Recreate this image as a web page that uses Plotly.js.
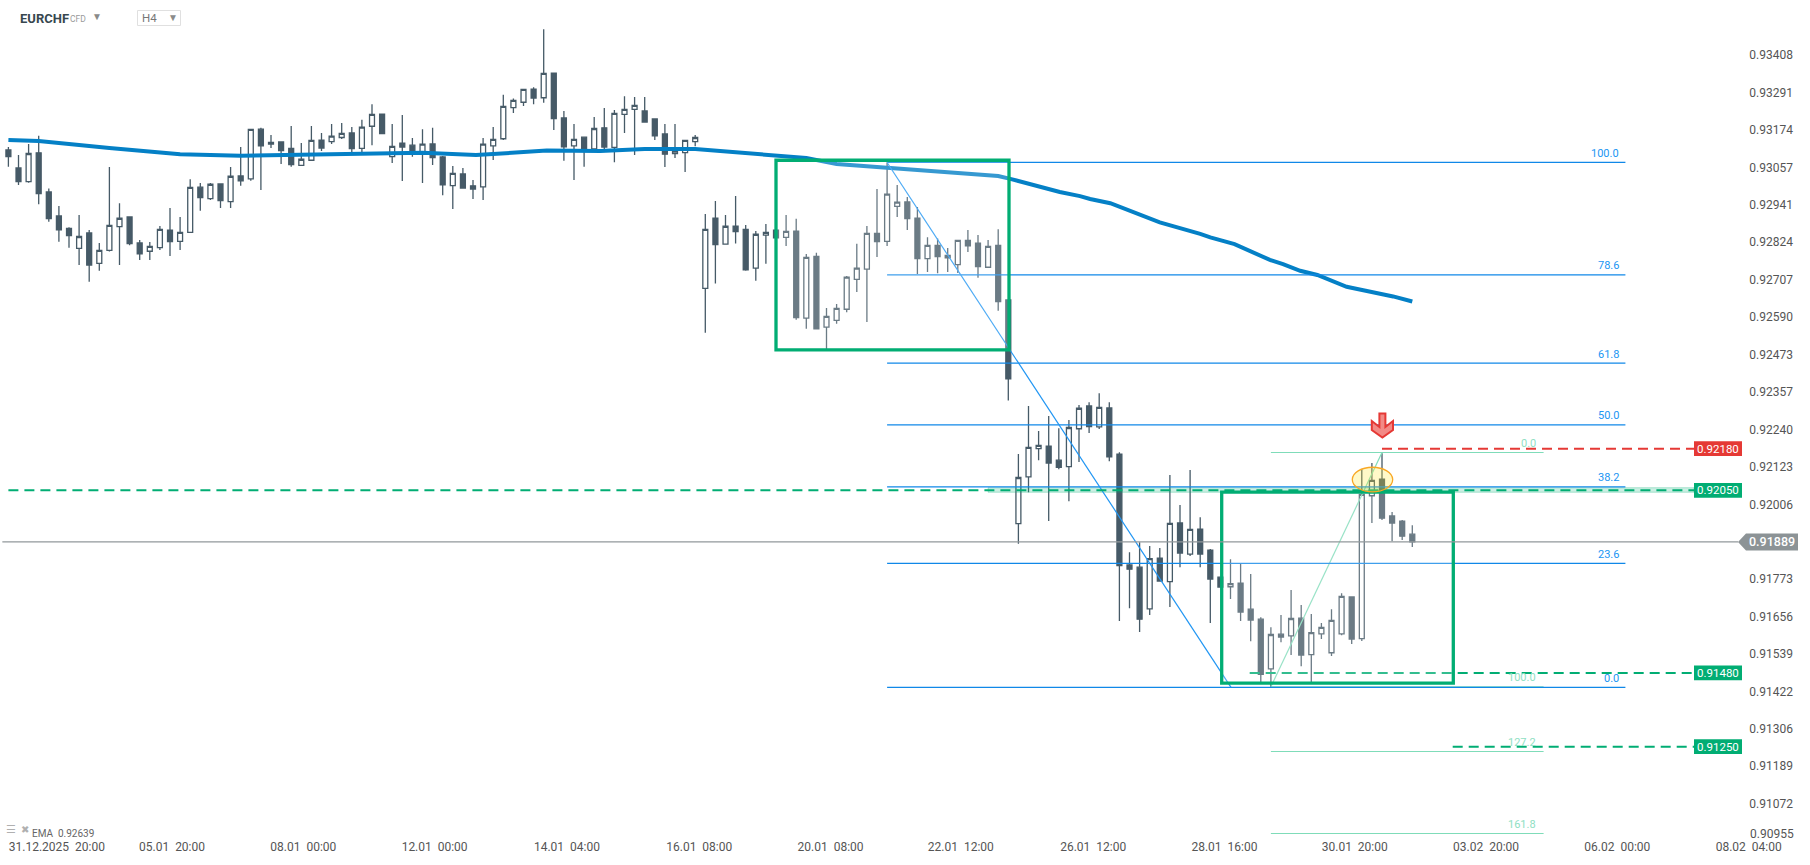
<!DOCTYPE html>
<html>
<head>
<meta charset="utf-8">
<script src="https://cdn.plot.ly/plotly-3.0.1.min.js"></script>
<style>html,body{margin:0;padding:0;background:#fff;overflow:hidden}#chart{width:1810px;height:865px}</style>
</head>
<body>
<div id="chart"></div>
<script>
const opens = [
.93112,.93056,.93013,.93103,.92981,.92906,.92867,.92805,.92853,.92758,
.92799,.92873,.92903,.92822,.92796,.92807,.92862,.92827,.92855,.92996,
.92960,.93006,.92951,.93031,.93022,.93177,.93130,.93137,.93117,.93064,
.93080,.93143,.93138,.93151,.93165,.93117,.93186,.93224,.93091,.93133,
.93127,.93101,.93131,.93090,.93001,.93037,.93000,.92997,.93125,.93147,
.93244,.93261,.93302,.93275,.93352,.93212,.93125,.93152,.93115,.93181,
.93120,.93223,.93239,.93234,.93209,.93162,.93101,.93104,.93138,.92680,
.92899,.92818,.92874,.92864,.92743,.92846,.92862,.92839,.92859,.92587,
.92780,.92559,.92580,.92615,.92708,.92740,.92852,.92827,.92936,.92950,
.92899,.92773,.92814,.92783,.92754,.92830,.92821,.92746,.92814,.92644,
.91946,.92092,.92180,.92188,.92144,.92124,.92242,.92313,.92248,.92307,
.92163,.91817,.91810,.91680,.91838,.91765,.91948,.91851,.91929,.91863,
.91779,.91749,.91760,.91679,.91648,.91493,.91601,.91596,.91651,.91537,
.91602,.91543,.91602,.91717,.91587,.92033,.92085,.91970,.91954,.91913];
const highs = [
.93121,.93096,.93131,.93156,.92992,.92937,.92871,.92909,.92862,.92822,
.93059,.92946,.92903,.92831,.92825,.92875,.92931,.92903,.93021,.93009,
.93009,.93006,.93059,.93121,.93176,.93181,.93159,.93137,.93187,.93134,
.93187,.93165,.93193,.93196,.93184,.93206,.93255,.93224,.93193,.93221,
.93149,.93177,.93181,.93093,.93062,.93056,.93018,.93149,.93184,.93284,
.93273,.93302,.93308,.93489,.93352,.93234,.93193,.93152,.93215,.93243,
.93237,.93280,.93277,.93277,.93209,.93193,.93193,.93142,.93159,.92912,
.92953,.92909,.92968,.92878,.92859,.92881,.92862,.92909,.92897,.92787,
.92791,.92619,.92631,.92719,.92819,.92875,.92990,.93074,.93003,.92965,
.92934,.92840,.92836,.92806,.92830,.92862,.92847,.92831,.92865,.92644,
.92163,.92313,.92235,.92282,.92244,.92269,.92316,.92325,.92353,.92325,
.92169,.91857,.91888,.91876,.91870,.92098,.92004,.92113,.91966,.91867,
.91779,.91835,.91820,.91789,.91654,.91623,.91661,.91739,.91692,.91664,
.91636,.91679,.91729,.91717,.92116,.92135,.92166,.91982,.91957,.91941];
const lows = [
.93060,.93003,.93010,.92943,.92888,.92826,.92807,.92753,.92701,.92735,
.92795,.92753,.92815,.92769,.92769,.92800,.92781,.92800,.92854,.92922,
.92956,.92931,.92931,.93000,.93016,.92987,.93118,.93068,.93060,.93064,
.93078,.93109,.93131,.93146,.93106,.93099,.93127,.93163,.93071,.93015,
.93091,.93009,.93065,.92971,.92928,.92993,.92959,.92956,.93081,.93143,
.93227,.93249,.93255,.93259,.93174,.93078,.93018,.93060,.93112,.93112,
.93074,.93165,.93096,.93199,.93143,.93059,.93087,.93043,.93124,.92542,
.92695,.92816,.92820,.92735,.92704,.92757,.92838,.92812,.92582,.92554,
.92554,.92491,.92570,.92606,.92669,.92575,.92778,.92812,.92903,.92862,
.92725,.92731,.92727,.92731,.92728,.92794,.92713,.92746,.92610,.92330,
.91883,.92044,.92144,.91954,.92116,.92016,.92138,.92229,.92241,.92141,
.91642,.91682,.91608,.91661,.91767,.91686,.91810,.91845,.91810,.91636,
.91748,.91711,.91642,.91579,.91452,.91436,.91576,.91536,.91501,.91452,
.91586,.91533,.91598,.91570,.91580,.91948,.91957,.91891,.91895,.91873];
const closes = [
.93091,.93013,.93101,.92976,.92898,.92863,.92845,.92842,.92753,.92799,
.92877,.92899,.92820,.92788,.92811,.92864,.92826,.92855,.92995,.92963,
.93005,.92954,.93030,.93016,.93176,.93125,.93136,.93110,.93066,.93083,
.93142,.93118,.93155,.93164,.93116,.93183,.93223,.93163,.93123,.93121,
.93101,.93130,.93088,.93003,.93039,.92993,.92990,.93130,.93145,.93248,
.93267,.93301,.93274,.93351,.93210,.93122,.93145,.93115,.93179,.93121,
.93226,.93239,.93251,.93199,.93156,.93099,.93109,.93142,.93151,.92864,
.92817,.92874,.92857,.92738,.92849,.92855,.92838,.92858,.92589,.92777,
.92554,.92593,.92618,.92715,.92743,.92852,.92826,.92974,.92949,.92898,
.92773,.92814,.92779,.92775,.92830,.92813,.92748,.92811,.92639,.92398,
.92090,.92184,.92190,.92135,.92122,.92246,.92306,.92249,.92309,.92154,
.91815,.91804,.91648,.91837,.91767,.91947,.91854,.91928,.91851,.91773,
.91748,.91759,.91670,.91645,.91476,.91600,.91592,.91650,.91536,.91606,
.91622,.91644,.91719,.91586,.92037,.92081,.91963,.91948,.91907,.91889];
const candleIndex = opens.map((_, i) => i);

const emaIndex = [0,3,10,17,23,34,41,46.3,50,53.3,58.6,63,68,70,79,82,87,94.2,98,99.2,101.5,104.1,106.1,107.1,109.1,112.1,114,118,119,121.4,124.9,126.2,127.9,129.6,132.5,134.5,137.1,139];
const emaValues = [.93143,.93140,.93118,.93099,.93094,.93098,.93103,.93096,.93103,.93110,.93109,.93115,.93115,.93110,.93087,.93068,.93057,.93042,.93031,.93022,.93002,.92981,.92968,.92959,.92946,.92908,.92886,.92850,.92839,.92818,.92769,.92756,.92735,.92722,.92685,.92672,.92655,.92639];

const priceTickPos = [.93408,.93291,.93174,.93057,.92941,.92824,.92707,.92590,.92473,.92357,.92240,.92123,.92006,.91773,.91656,.91539,.91422,.91306,.91189,.91072];
const priceTickText = ['0.93408','0.93291','0.93174','0.93057','0.92941','0.92824','0.92707','0.92590','0.92473','0.92357','0.92240','0.92123','0.92006','0.91773','0.91656','0.91539','0.91422','0.91306','0.91189','0.91072'];
const bottomPriceLabel = '0.90955';
const timeTickPos = [4.8,16.2,29.2,42.2,55.3,68.4,81.4,94.3,107.4,120.4,133.3,146.3,159.3,172.3];
const timeTickText = ['31.12.2025  20:00','05.01  20:00','08.01  00:00','12.01  00:00','14.01  04:00','16.01  08:00','20.01  08:00','22.01  12:00','26.01  12:00','28.01  16:00','30.01  20:00','03.02  20:00','06.02  00:00','08.02  04:00'];

const blueFibLevels = ['100.0','78.6','61.8','50.0','38.2','23.6','0.0'];
const blueFibPrices = [.93073,.92722,.92447,.92254,.92061,.91822,.91435];
const greenFibLevels = ['0.0','100.0','127.2','161.8'];
const greenFibPrices = [.92168,.91437,.91235,.90979];

const levelTags = ['0.92180','0.92050','0.91480','0.91250'];
const levelPrices = [.92180,.92050,.91480,.91250];
const levelStarts = [136,0,122.9,143];
const levelColors = ['#e53935','#01ad73','#01ad73','#01ad73'];
const lastPrice = 0.91889;
const emaLabel = 'EMA  0.92639';

const DARK = '#465a67', BLUE = '#1088e8', LBL_BLUE = '#2196f3', FIB_G = '#7fdcb9', BOX_G = '#01ad73';
const X0 = 8.4, DX = 10.1, PLOT_R = 1800, PLOT_B = 838;
const ix = px => (px - X0) / DX;
const pxp = px => px / PLOT_R;
const pyp = py => 1 - py / PLOT_B;
const yPad = 14.7 / 32046 / 2;

const shapes = [];
const annots = [];
const hline = (x0, x1, y, color, width, dash) => shapes.push({type:'line', xref:'x', yref:'y', x0, x1, y0:y, y1:y, line:{color, width, dash:dash||'solid'}});

// green fib (second retracement)
greenFibPrices.forEach(p => hline(125, 152, p, FIB_G, 1.2));
shapes.push({type:'line', xref:'x', yref:'y', x0:125, x1:136, y0:greenFibPrices[1], y1:greenFibPrices[0], line:{color:FIB_G, width:1.2}});
greenFibLevels.forEach((t, i) => annots.push({xref:'x', yref:'y', x:ix(1538), y:greenFibPrices[i], yshift:9, xanchor:'right', yanchor:'middle', showarrow:false, text:t, font:{family:'Roboto', size:11, color:'#8fe0c3'}}));

// 0.92050 zone
shapes.push({type:'rect', xref:'x', yref:'y', x0:97, x1:166.9, y0:.92044, y1:.92058, fillcolor:'rgba(1,173,115,0.2)', line:{color:'rgba(1,173,115,0.3)', width:1}});

// blue fib
blueFibPrices.forEach(p => hline(87, 160.1, p, BLUE, 1.2));
shapes.push({type:'line', xref:'x', yref:'y', x0:87, x1:121.05, y0:blueFibPrices[0], y1:blueFibPrices[6], line:{color:LBL_BLUE, width:1.2}});
blueFibLevels.forEach((t, i) => annots.push({xref:'x', yref:'y', x:ix(1621), y:blueFibPrices[i], yshift:9, xanchor:'right', yanchor:'middle', showarrow:false, text:t, font:{family:'Roboto', size:11, color:LBL_BLUE}}));

// level dashes and tags
levelPrices.forEach((p, i) => {
  hline(levelStarts[i], ix(1694), p, levelColors[i], 2, '10px,6px');
  shapes.push({type:'rect', xref:'x', yref:'y', x0:ix(1694), x1:ix(1742), y0:p-yPad, y1:p+yPad, fillcolor:levelColors[i], line:{width:0}});
  annots.push({xref:'x', yref:'y', x:ix(1718), y:p, xanchor:'center', yanchor:'middle', showarrow:false, text:levelTags[i], font:{family:'Roboto', size:11.5, color:'#ffffff'}});
});

// highlight boxes
shapes.push({type:'rect', xref:'x', yref:'y', x0:ix(776), x1:ix(1009), y0:.92488, y1:.93080, fillcolor:'rgba(255,255,255,0.2)', line:{color:BOX_G, width:3.3}});
shapes.push({type:'rect', xref:'x', yref:'y', x0:ix(1221.7), x1:ix(1453.3), y0:.91448, y1:.92044, fillcolor:'rgba(255,255,255,0.2)', line:{color:BOX_G, width:3.3}});

// last price line and flag
hline(-0.6, ix(1738), lastPrice, '#92989b', 1.2);
shapes.push({type:'path', xsizemode:'pixel', ysizemode:'pixel', xref:'x', yref:'y', xanchor:ix(1738), yanchor:lastPrice,
  path:'M 0 0 L 8 8.5 L 60 8.5 L 60 -8.5 L 8 -8.5 Z', fillcolor:'#8c9396', line:{width:0}});
annots.push({xref:'x', yref:'y', x:ix(1771.7), y:lastPrice, xanchor:'center', yanchor:'middle', showarrow:false, text:'0.91889', font:{family:'Roboto', size:12.5, color:'#ffffff', weight:500}});

// orange ellipse
shapes.push({type:'circle', xref:'x', yref:'y', x0:ix(1352.3), x1:ix(1392.7), y0:.92045, y1:.92122, fillcolor:'rgba(255,235,59,0.28)', line:{color:'#f9a825', width:1.3}});

// red arrow, offsets in px from the top of candle 136
shapes.push({type:'path', xsizemode:'pixel', ysizemode:'pixel', xref:'x', yref:'y', xanchor:136, yanchor:greenFibPrices[0],
  path:'M -2.6 39 L 3.4 39 L 3.4 25.5 L 11 31.5 L 11 22.5 L 0.4 15 L -10.2 22.5 L -10.2 31.5 L -2.6 25.5 Z', fillcolor:'#f28a86', line:{color:'#e53935', width:2}});

// bottom price label, held just above the time axis
annots.push({xref:'x', yref:'paper', x:ix(1796), y:pyp(834), xanchor:'right', yanchor:'middle', showarrow:false, text:bottomPriceLabel, font:{family:'Roboto', size:12, color:'#555555'}});

// header and legend
const pageText = (x, y, text, size, color, extra) => annots.push(Object.assign({xref:'paper', yref:'paper', x:pxp(x), y:pyp(y), xanchor:'left', yanchor:'middle', showarrow:false, text, font:{family:'Roboto', size, color}}, extra||{}));
pageText(18, 18.7, 'EURCHF', 13, '#37474f', {font:{family:'Roboto', size:13, color:'#37474f', weight:700}});
pageText(67.5, 19, 'CFD', 8.5, '#9a9a9a');
pageText(90, 16.5, '▼', 10, '#8a8a8a');
shapes.push({type:'rect', xref:'paper', yref:'paper', x0:pxp(137.5), x1:pxp(180.5), y0:pyp(25.5), y1:pyp(10.5), fillcolor:'#ffffff', line:{color:'#e0e0e0', width:1}});
pageText(140, 18.5, 'H4', 11.5, '#777777');
pageText(166, 17.5, '▼', 10, '#8a8a8a');
pageText(4, 829.5, '☰', 11, '#b0b0b0');
pageText(18.5, 829.5, '✖', 10, '#b0b0b0');
pageText(29.5, 833.5, emaLabel, 10, '#666666');

const data = [
  {type:'candlestick', x:candleIndex, open:opens, high:highs, low:lows, close:closes, whiskerwidth:0,
   increasing:{line:{color:DARK, width:1.3}, fillcolor:'#ffffff'},
   decreasing:{line:{color:DARK, width:1.3}, fillcolor:DARK}, hoverinfo:'skip', showlegend:false},
  {type:'scatter', mode:'lines', x:emaIndex, y:emaValues, line:{color:'#0480c6', width:4}, hoverinfo:'skip', showlegend:false}
];

const layout = {
  width:1810, height:865, autosize:false, paper_bgcolor:'#ffffff', plot_bgcolor:'#ffffff', showlegend:false, boxgap:0.3,
  margin:{l:0, r:10, t:0, b:27, pad:0},
  xaxis:{range:[ix(0), ix(PLOT_R)], fixedrange:true, showgrid:false, zeroline:false, showline:false, ticks:'', rangeslider:{visible:false},
         tickmode:'array', tickvals:timeTickPos, ticktext:timeTickText, tickangle:0, tickfont:{family:'Roboto', size:12, color:'#555555'}},
  yaxis:{range:[.90965, .93580], fixedrange:true, side:'right', showgrid:false, zeroline:false, showline:false, ticks:'',
         ticklabelposition:'inside', ticklabelstandoff:4, tickmode:'array', tickvals:priceTickPos, ticktext:priceTickText,
         tickfont:{family:'Roboto', size:12, color:'#555555'}},
  shapes, annotations:annots
};
Plotly.newPlot('chart', data, layout, {staticPlot:true, displayModeBar:false});
</script>
</body>
</html>
